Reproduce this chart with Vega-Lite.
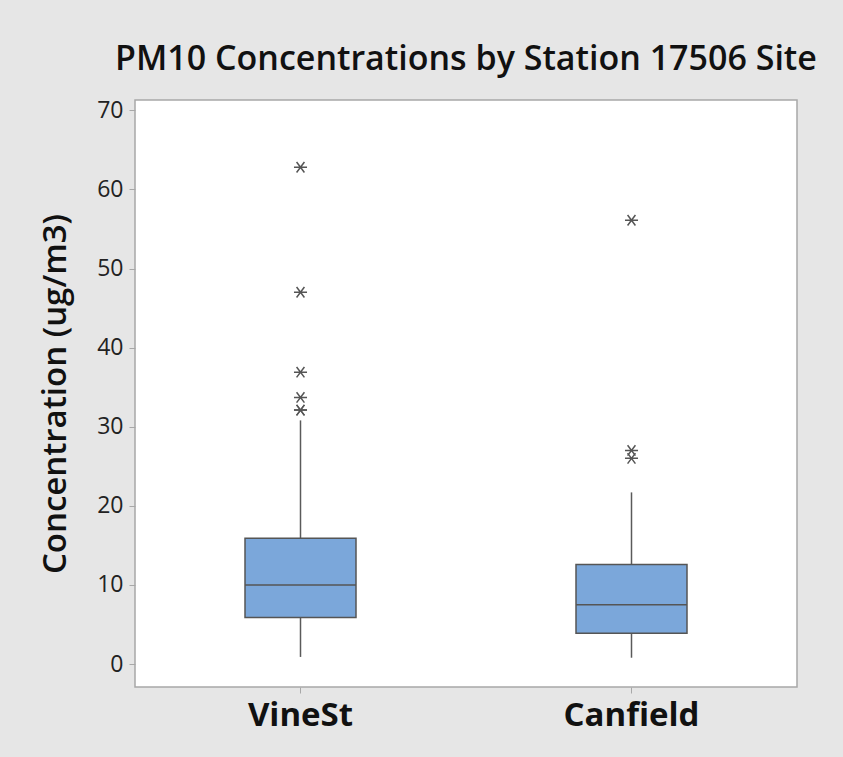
{
  "$schema": "https://vega.github.io/schema/vega-lite/v6.json",
  "autosize": "none",
  "width": 662,
  "height": 587,
  "padding": {"left": 135, "top": 100, "right": 46, "bottom": 70},
  "background": "#e6e6e6",
  "title": {"text": "PM10 Concentrations by Station 17506 Site", "font": "Open Sans", "fontSize": 34, "fontWeight": 600, "color": "#111111", "anchor": "middle", "offset": 22},
  "config": {
    "view": {"fill": "white", "stroke": "#a8a8a8", "strokeWidth": 1.5},
    "axis": {"grid": false, "domain": false, "tickColor": "#a8a8a8", "tickSize": 6, "labelFont": "Open Sans", "titleFont": "Open Sans", "labelColor": "#222222", "titleColor": "#111111"}
  },
  "datasets": {
    "boxes": [
      {"site": "VineSt", "lo": 0.9, "q1": 5.9, "median": 10.0, "q3": 15.9, "hi": 30.8},
      {"site": "Canfield", "lo": 0.8, "q1": 3.9, "median": 7.5, "q3": 12.6, "hi": 21.7}
    ],
    "outliers": [
      {"site": "VineSt", "value": 62.8},
      {"site": "VineSt", "value": 47.0},
      {"site": "VineSt", "value": 36.9},
      {"site": "VineSt", "value": 33.7},
      {"site": "VineSt", "value": 32.1},
      {"site": "VineSt", "value": 32.1},
      {"site": "Canfield", "value": 56.1},
      {"site": "Canfield", "value": 27.0},
      {"site": "Canfield", "value": 26.0}
    ]
  },
  "encoding": {
    "x": {"field": "site", "type": "nominal", "sort": ["VineSt", "Canfield"], "scale": {"paddingInner": 0, "paddingOuter": 0}, "axis": {"title": null, "labelAngle": 0, "labelFontSize": 33, "labelFontWeight": "bold", "labelPadding": 6, "labelColor": "#111111"}}
  },
  "layer": [
    {
      "data": {"name": "boxes"},
      "mark": {"type": "rule", "color": "#5a5a5a", "strokeWidth": 1.5},
      "encoding": {
        "y": {"field": "lo", "type": "quantitative", "scale": {"domain": [-2.9, 71.3], "nice": false, "zero": false}, "axis": {"values": [0, 10, 20, 30, 40, 50, 60, 70], "title": "Concentration (ug/m3)", "titleFontSize": 33, "titleFontWeight": 600, "titlePadding": 24, "labelFontSize": 23, "labelFontWeight": 500, "labelPadding": 6}},
        "y2": {"field": "hi"}
      }
    },
    {
      "data": {"name": "boxes"},
      "mark": {"type": "bar", "size": 111, "fill": "#7ba7da", "stroke": "#555555", "strokeWidth": 1.5},
      "encoding": {
        "y": {"field": "q1", "type": "quantitative"},
        "y2": {"field": "q3"}
      }
    },
    {
      "data": {"name": "boxes"},
      "mark": {"type": "tick", "size": 111, "thickness": 1.5, "color": "#555555", "opacity": 1},
      "encoding": {
        "y": {"field": "median", "type": "quantitative"}
      }
    },
    {
      "data": {"name": "outliers"},
      "mark": {"type": "point", "shape": "M-1,0L1,0M-0.6,-0.8L0.6,0.8M-0.6,0.8L0.6,-0.8", "filled": false, "size": 170, "stroke": "#555555", "strokeWidth": 1.5, "opacity": 1},
      "encoding": {
        "y": {"field": "value", "type": "quantitative"}
      }
    }
  ]
}
